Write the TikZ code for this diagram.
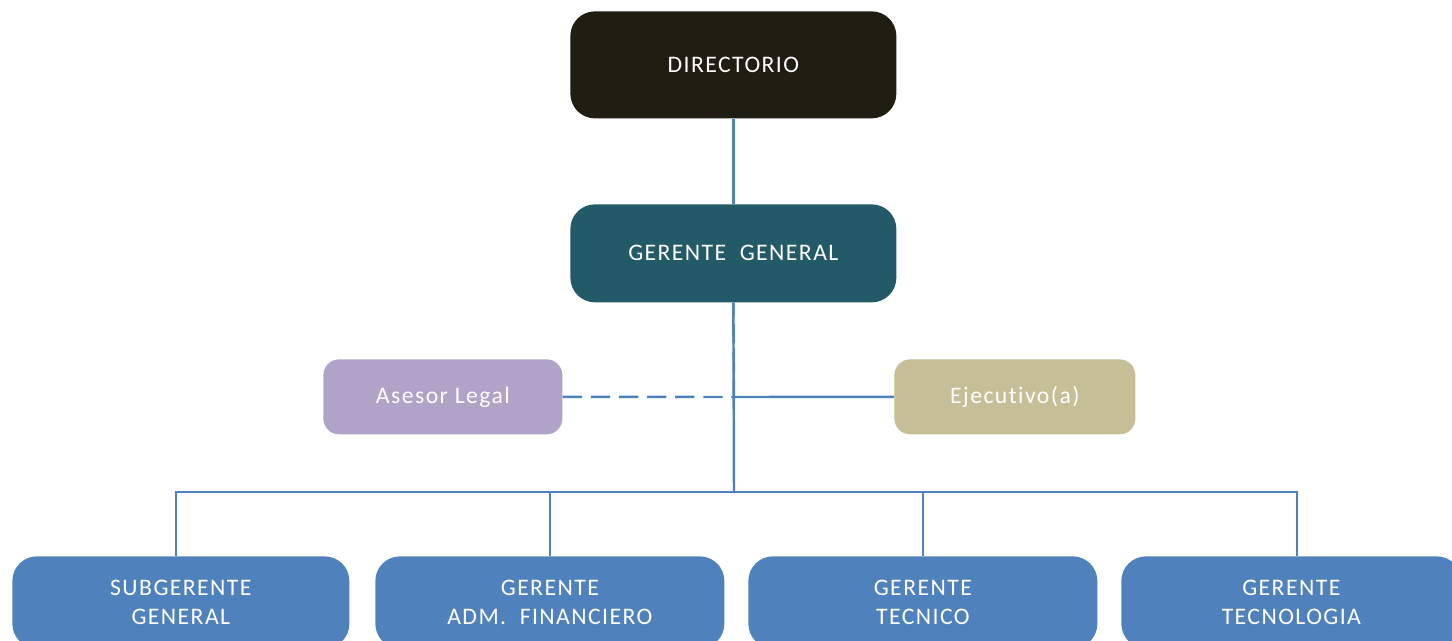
\documentclass[tikz,border=0pt]{standalone}
\usepackage{fontspec}
\setmainfont{Carlito}[LetterSpace=6, Ligatures={NoCommon}]
\begin{document}
\begin{tikzpicture}[x=0.02cm,y=-0.02cm,
  box/.style={rounded corners=14pt, inner sep=0pt, anchor=north west,
    text=white, font=\fontsize{13.5}{16}\selectfont, align=center},
  link/.style={draw=lineblue, line width=1.4pt},
  dashlink/.style={draw=lineblue, line width=1.4pt, dash pattern=on 11pt off 5pt}]
\definecolor{dirfill}{HTML}{201E12}
\definecolor{ggfill}{HTML}{235A68}
\definecolor{asefill}{HTML}{B1A2C8}
\definecolor{ejefill}{HTML}{C5BE97}
\definecolor{mgrfill}{HTML}{4F81BD}
\definecolor{lineblue}{HTML}{4F81BD}
\useasboundingbox (0,0) rectangle (1452,640);
\clip (0,0) rectangle (1452,640);

% top levels
\node[box, fill=dirfill, minimum width=326*0.02cm, minimum height=107*0.02cm] (dir) at (570,11) {DIRECTORIO};
\node[box, fill=ggfill, minimum width=326*0.02cm, minimum height=98*0.02cm] (gg) at (570,204) {GERENTE\ \ GENERAL};

% staff positions
\node[box, fill=asefill, rounded corners=9pt, minimum width=239*0.02cm, minimum height=75*0.02cm] (ase) at (323,359) {Asesor Legal};
\node[box, fill=ejefill, rounded corners=9pt, minimum width=241*0.02cm, minimum height=75*0.02cm] (eje) at (894,359) {Ejecutivo(a)};

% managers (boxes run past the lower edge)
\node[box, fill=mgrfill, minimum width=337*0.02cm, minimum height=92*0.02cm] (sub) at (12,556) {SUBGERENTE\\GENERAL};
\node[box, fill=mgrfill, minimum width=349*0.02cm, minimum height=92*0.02cm] (fin) at (375,556) {GERENTE\\ADM.\ \ FINANCIERO};
\node[box, fill=mgrfill, minimum width=349*0.02cm, minimum height=92*0.02cm] (tec) at (748,556) {GERENTE\\TECNICO};
\node[box, fill=mgrfill, minimum width=340*0.02cm, minimum height=92*0.02cm] (tgl) at (1121,556) {GERENTE\\TECNOLOGIA};

% connectors
\coordinate (hub) at (734,397);
\coordinate (bus) at (734,492);
\coordinate (subtop) at (176,556);
\coordinate (tgltop) at (1297,556);
\draw[link] (dir.south) -- (gg.south |- dir.south) -- (gg.north);
\draw[link] (gg.south) -- (bus);
\draw[dashlink] (ase.east) -- (hub) -- (gg.south);
\draw[link] (hub) -- (eje.west);
\draw[link] (bus) -| (subtop);
\draw[link] (bus) -| (fin.north);
\draw[link] (bus) -| (tec.north);
\draw[link] (bus) -| (tgltop);
\end{tikzpicture}
\end{document}
